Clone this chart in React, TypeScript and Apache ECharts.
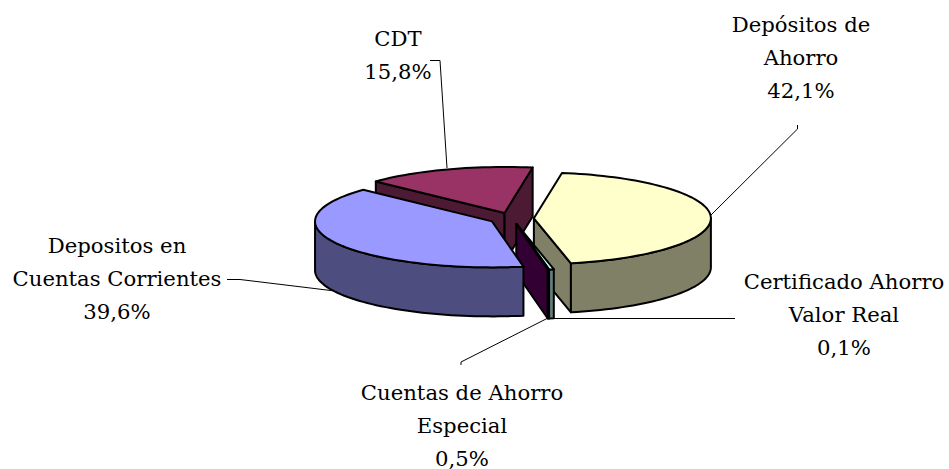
import React, { useEffect, useRef } from "react";
import * as echarts from "echarts";

const categories = [
  "Depósitos de\nAhorro",
  "Cuentas de Ahorro\nEspecial",
  "Certificado Ahorro\nValor Real",
  "Depositos en\nCuentas Corrientes",
  "CDT",
];
const displayedValues = [42.1, 0.5, 0.1, 39.6, 15.8];
const topColors = ["#FFFFCC", "#CCFFFF", "#660066", "#9999FF", "#993366"];
const sideColors = ["#808066", "#668080", "#330033", "#4D4D80", "#4D1A33"];
const paintOrder = [4, 0, 1, 2, 3];

// Layout (not data)
const START_ANGLE = 11;
const ANGLE_WARP = 5;
const ANGLE_WARP_BACK_LEFT = 0.3;
const PIVOT_X = 511.5;
const PIVOT_Y = 218.5;
const RX = 177;
const RY = 46;
const DEPTH = 49;
const EXPLODE = 0.1265;
const labelPositions = [
  [801, 57],
  [462, 425],
  [844, 314],
  [117, 278],
  [398, 55],
];
const leaderLines = [
  [[797.5, 125], [797.5, 129], [711, 215]],
  [[461, 365], [461, 362], [548, 318]],
  [[735, 318.5], [552, 318.5]],
  [[227, 279.5], [240, 279.5], [335, 291]],
  [[430, 60.5], [440, 60.5], [447, 168]],
];

const total = displayedValues.reduce((a, b) => a + b, 0);
const starts: number[] = [];
displayedValues.reduce((acc, v, i) => {
  starts[i] = acc;
  return acc + (v / total) * 360;
}, START_ANGLE);

const fmt = (v: number) => v.toFixed(1).replace(".", ",") + "%";
const rad = (d: number) => (d * Math.PI) / 180;
const warp = (d: number) => {
  const k = d % 360 >= 270 ? ANGLE_WARP_BACK_LEFT : ANGLE_WARP;
  return d - k * Math.sin(rad(2 * d));
};

function renderSlice(_params: any, api: any) {
  const value = api.value(0) as number;
  const idx = api.value(1) as number;
  const raw0 = starts[idx];
  const raw1 = raw0 + (value / total) * 360;
  const mid = rad((raw0 + raw1) / 2);
  const a0 = warp(raw0);
  const a1 = warp(raw1);
  const ax = PIVOT_X + EXPLODE * RX * Math.sin(mid);
  const ay = PIVOT_Y - EXPLODE * RY * Math.cos(mid);
  const rim = (deg: number) => [ax + RX * Math.sin(rad(deg)), ay - RY * Math.cos(rad(deg))];
  const arc = (from: number, to: number) => {
    const pts: number[][] = [];
    const n = Math.max(1, Math.ceil((to - from) / 2));
    for (let k = 0; k <= n; k++) pts.push(rim(from + ((to - from) * k) / n));
    return pts;
  };
  const down = (p: number[]) => [p[0], p[1] + DEPTH];
  const lineStyle = { stroke: "#000", lineWidth: 2, lineJoin: "round" };
  const side = { fill: sideColors[idx], ...lineStyle };
  const children: any[] = [];
  const quad = (p: number[], q: number[]) =>
    children.push({
      type: "polygon",
      shape: { points: [p, q, down(q), down(p)] },
      style: side,
    });
  const apex = [ax, ay];
  const p0 = rim(a0);
  const p1 = rim(a1);
  if (p0[0] < ax) quad(apex, p0);
  if (p1[0] > ax) quad(p1, apex);
  const wa = Math.max(a0, 90);
  const wb = Math.min(a1, 270);
  if (wb > wa) {
    const front = arc(wa, wb);
    children.push({
      type: "polygon",
      shape: { points: [...front, ...front.map(down).reverse()] },
      style: side,
    });
  }
  children.push({
    type: "polygon",
    shape: { points: [apex, ...arc(a0, a1)] },
    style: { fill: topColors[idx], ...lineStyle },
  });
  return { type: "group", children };
}

export default function App() {
  const ref = useRef<HTMLDivElement>(null);
  useEffect(() => {
    const chart = echarts.init(ref.current!, undefined, { renderer: "svg" });
    const graphics: any[] = [];
    leaderLines.forEach((pts) => {
      graphics.push({
        type: "polyline",
        z: 1,
        shape: { points: pts },
        style: { fill: "none", stroke: "#000", lineWidth: 1 },
      });
    });
    categories.forEach((name, i) => {
      graphics.push({
        type: "text",
        z: 3,
        x: labelPositions[i][0],
        y: labelPositions[i][1],
        style: {
          text: `${name}\n${fmt(displayedValues[i])}`,
          fill: "#000",
          font: '21.2px "DejaVu Serif"',
          lineHeight: 33,
          align: "center",
          verticalAlign: "middle",
        },
      });
    });
    chart.setOption({
      animation: false,
      backgroundColor: "#fff",
      graphic: graphics,
      series: [
        {
          type: "custom",
          coordinateSystem: "none",
          silent: true,
          z: 2,
          renderItem: renderSlice,
          data: paintOrder.map((i) => ({ name: categories[i], value: [displayedValues[i], i] })),
        },
      ],
    });
    return () => chart.dispose();
  }, []);
  return <div ref={ref} style={{ position: "fixed", left: 0, top: 0, width: 949, height: 469 }} />;
}
